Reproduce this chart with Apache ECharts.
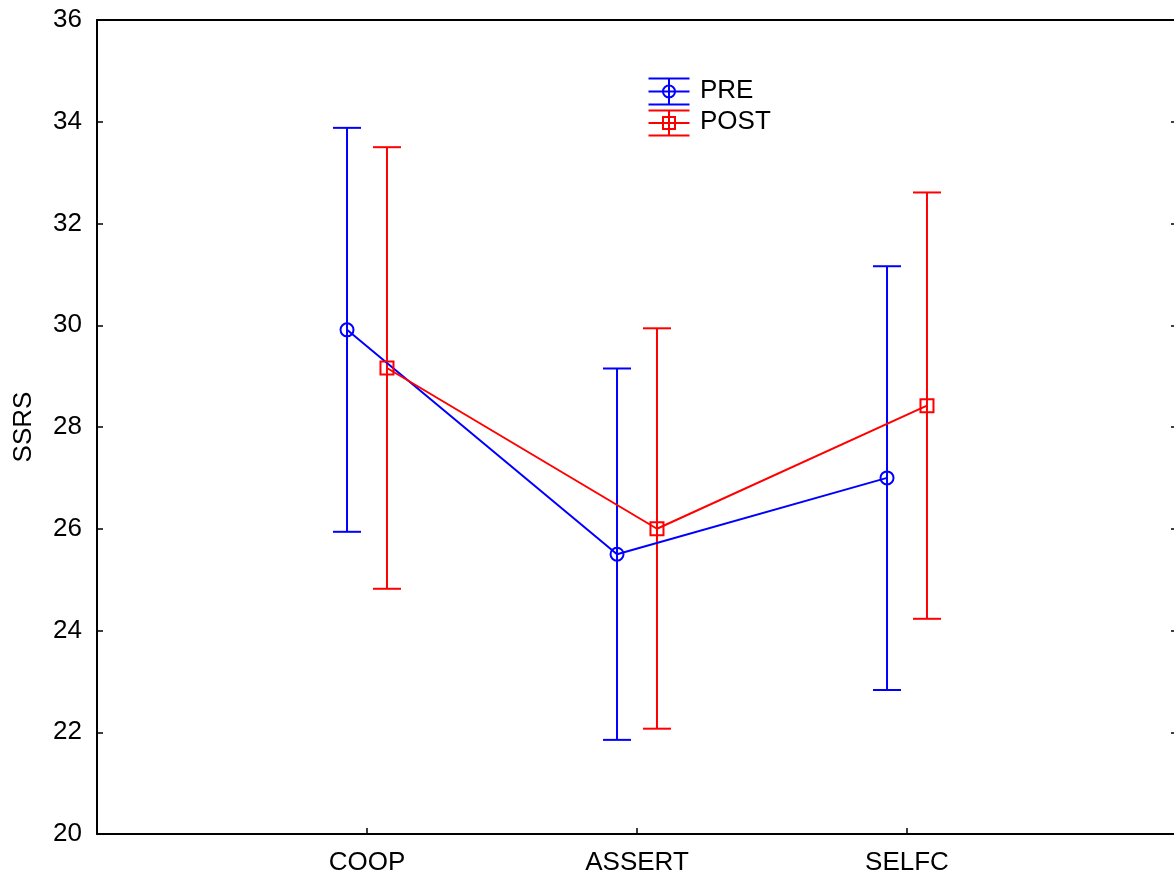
<!DOCTYPE html>
<html>
<head>
<meta charset="utf-8">
<script src="https://cdn.jsdelivr.net/npm/echarts@6/dist/echarts.min.js"></script>
<style>
html,body{margin:0;padding:0;background:#fff;}
#chart{width:1174px;height:879px;}
</style>
</head>
<body>
<div id="chart"></div>
<script>
// ---- data ----
const categories = ['COOP', 'ASSERT', 'SELFC'];
const preMean  = [29.91, 25.50, 27.00];
const preLow   = [25.94, 21.85, 22.83];
const preHigh  = [33.88, 29.15, 31.16];
const postMean = [29.16, 26.00, 28.42];
const postLow  = [24.82, 22.07, 24.23];
const postHigh = [33.50, 29.94, 32.61];
const yTicks = [20, 22, 24, 26, 28, 30, 32, 34, 36];

// ---- layout / style ----
const FONT = "'Liberation Sans', Arial, sans-serif";
const FS = 26;
const BLUE = '#0000ff';
const RED = '#ff0000';
const groupOffset = 0.074; // horizontal shift of each group from its category position
const capHalf = 14;

function pts(means, shift) {
  return means.map((m, i) => [i + 1 + shift, m]);
}
function bars(lows, highs, shift) {
  return lows.map((l, i) => [i + 1 + shift, l, highs[i]]);
}

function errorBarSeries(name, data, color) {
  return {
    type: 'custom',
    name: name,
    data: data,
    encode: {x: 0, y: [1, 2]},
    z: 2,
    clip: false,
    renderItem: function (params, api) {
      const x = api.value(0);
      const lo = api.coord([x, api.value(1)]);
      const hi = api.coord([x, api.value(2)]);
      const st = {stroke: color, lineWidth: 2, fill: null};
      return {
        type: 'group',
        children: [
          {type: 'line', shape: {x1: lo[0], y1: lo[1], x2: hi[0], y2: hi[1]}, style: st},
          {type: 'line', shape: {x1: lo[0] - capHalf, y1: lo[1], x2: lo[0] + capHalf, y2: lo[1]}, style: st},
          {type: 'line', shape: {x1: hi[0] - capHalf, y1: hi[1], x2: hi[0] + capHalf, y2: hi[1]}, style: st}
        ]
      };
    }
  };
}

const chart = echarts.init(document.getElementById('chart'), null, {renderer: 'canvas'});

const option = {
  backgroundColor: '#fff',
  animation: false,
  grid: {left: 97, top: 20, right: -3, bottom: 45, containLabel: false, outerBoundsMode: 'none'},
  xAxis: [{
    type: 'value', min: 0, max: categories.length + 1, interval: 1,
    position: 'bottom',
    axisLine: {show: true, lineStyle: {color: '#000', width: 2}},
    axisTick: {show: true, inside: true, length: 6, lineStyle: {color: '#000', width: 1.5}},
    axisLabel: {
      color: '#000', fontFamily: FONT, fontSize: FS, margin: 16,
      formatter: v => categories[v - 1] || ''
    },
    splitLine: {show: false}
  }, {
    type: 'value', min: 0, max: categories.length + 1, interval: 1,
    position: 'top',
    axisLine: {show: true, onZero: false, lineStyle: {color: '#000', width: 2}},
    axisTick: {show: false}, axisLabel: {show: false}, splitLine: {show: false}
  }],
  yAxis: [{
    type: 'value', min: yTicks[0], max: yTicks[yTicks.length - 1], interval: 2,
    position: 'left',
    name: 'SSRS', nameLocation: 'middle', nameGap: 60, nameRotate: 90,
    nameTextStyle: {color: '#000', fontFamily: FONT, fontSize: FS},
    axisLine: {show: true, onZero: false, lineStyle: {color: '#000', width: 2}},
    axisTick: {show: true, inside: true, length: 6, lineStyle: {color: '#000', width: 1.5}},
    axisLabel: {color: '#000', fontFamily: FONT, fontSize: FS, margin: 15},
    splitLine: {show: false}
  }, {
    type: 'value', min: yTicks[0], max: yTicks[yTicks.length - 1], interval: 2,
    position: 'right',
    axisLine: {show: true, onZero: false, lineStyle: {color: '#000', width: 2}},
    axisTick: {show: true, inside: true, length: 6, lineStyle: {color: '#000', width: 1.5}},
    axisLabel: {show: false}, splitLine: {show: false}
  }],
  series: [
    errorBarSeries('PRE bars', bars(preLow, preHigh, -groupOffset), BLUE),
    errorBarSeries('POST bars', bars(postLow, postHigh, groupOffset), RED),
    {
      type: 'line', name: 'PRE', data: pts(preMean, -groupOffset), z: 3,
      symbol: 'circle', symbolSize: 13,
      itemStyle: {color: 'rgba(0,0,0,0)', borderColor: BLUE, borderWidth: 2},
      lineStyle: {color: BLUE, width: 2}
    },
    {
      type: 'line', name: 'POST', data: pts(postMean, groupOffset), z: 3,
      symbol: 'rect', symbolSize: 13,
      itemStyle: {color: 'rgba(0,0,0,0)', borderColor: RED, borderWidth: 2},
      lineStyle: {color: RED, width: 2}
    }
  ],
  graphic: [
    // legend: PRE
    {type: 'group', left: 646, top: 76, children: [
      {type: 'line', shape: {x1: 0, y1: 1, x2: 41, y2: 1}, style: {stroke: BLUE, lineWidth: 2}},
      {type: 'line', shape: {x1: 0, y1: 14, x2: 41, y2: 14}, style: {stroke: BLUE, lineWidth: 2}},
      {type: 'line', shape: {x1: 0, y1: 27, x2: 41, y2: 27}, style: {stroke: BLUE, lineWidth: 2}},
      {type: 'line', shape: {x1: 20.5, y1: 1, x2: 20.5, y2: 27}, style: {stroke: BLUE, lineWidth: 2}},
      {type: 'circle', shape: {cx: 20.5, cy: 14, r: 6}, style: {stroke: BLUE, lineWidth: 2, fill: null}}
    ]},
    {type: 'text', left: 700, top: 78, style: {text: 'PRE', fill: '#000', font: FS + 'px ' + FONT}},
    // legend: POST
    {type: 'group', left: 646, top: 108, children: [
      {type: 'line', shape: {x1: 0, y1: 1, x2: 41, y2: 1}, style: {stroke: RED, lineWidth: 2}},
      {type: 'line', shape: {x1: 0, y1: 13.5, x2: 41, y2: 13.5}, style: {stroke: RED, lineWidth: 2}},
      {type: 'line', shape: {x1: 0, y1: 26, x2: 41, y2: 26}, style: {stroke: RED, lineWidth: 2}},
      {type: 'line', shape: {x1: 20.5, y1: 1, x2: 20.5, y2: 26}, style: {stroke: RED, lineWidth: 2}},
      {type: 'rect', shape: {x: 14.5, y: 7.5, width: 12, height: 12}, style: {stroke: RED, lineWidth: 2, fill: null}}
    ]},
    {type: 'text', left: 700, top: 109, style: {text: 'POST', fill: '#000', font: FS + 'px ' + FONT}}
  ]
};
chart.setOption(option);
</script>
</body>
</html>
